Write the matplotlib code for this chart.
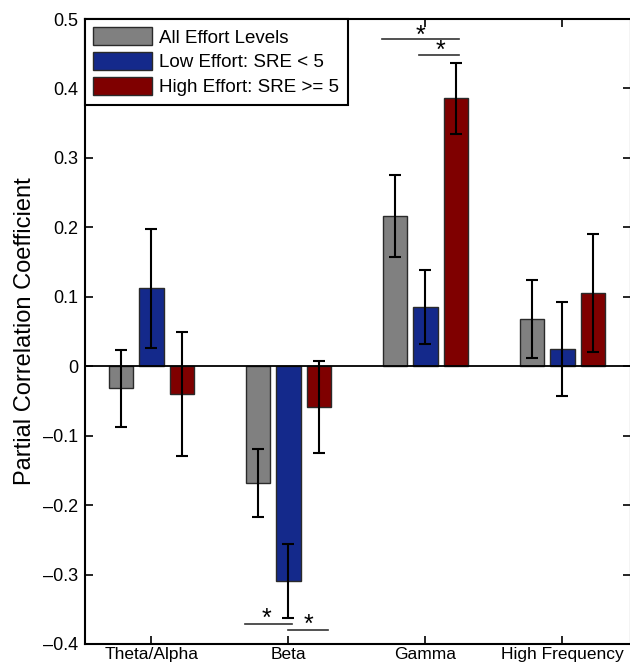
import matplotlib
matplotlib.use("Agg")
import matplotlib.pyplot as plt
import numpy as np

plt.rcParams['font.family'] = ['Liberation Sans', 'DejaVu Sans']

# ---- data ----
bands = ["Theta/Alpha", "Beta", "Gamma", "High Frequency"]
series_names = ["All Effort Levels", "Low Effort: SRE < 5", "High Effort: SRE >= 5"]
all_effort = [-0.032, -0.168, 0.216, 0.068]
all_err = [0.055, 0.049, 0.059, 0.056]
low_effort = [0.112, -0.309, 0.085, 0.025]
low_err = [0.086, 0.053, 0.053, 0.068]
high_effort = [-0.040, -0.059, 0.386, 0.1055]
high_err = [0.089, 0.066, 0.051, 0.085]
yticks = [-0.4, -0.3, -0.2, -0.1, 0, 0.1, 0.2, 0.3, 0.4, 0.5]

# significance brackets: (x0, x1, y, star_x, star_y)
sig_lines = [(2.681, 3.245, 0.4705, 2.96, 0.4846),
             (2.955, 3.245, 0.448, 3.111, 0.4637),
             (1.683, 2.024, -0.3705, 1.836, -0.3544),
             (1.997, 2.286, -0.380, 2.145, -0.3631)]

colors = ['#808080', '#14298B', '#7F0000']
groups = np.arange(1, len(bands) + 1)
offset = 0.2226
width = 0.179

fig = plt.figure(figsize=(6.3, 6.65), dpi=100)
ax = fig.add_axes([85 / 630, 21 / 665, 546 / 630, 625 / 665])

for i, (vals, errs) in enumerate(zip([all_effort, low_effort, high_effort],
                                     [all_err, low_err, high_err])):
    x = groups + (i - 1) * offset
    ax.bar(x, vals, width=width, color=colors[i], edgecolor='#2a2a2a',
           linewidth=1.0, label=series_names[i], zorder=2)
    ax.errorbar(x, vals, yerr=errs, fmt='none', ecolor='black', elinewidth=1.5,
                capsize=4.2, capthick=1.5, zorder=3)

ax.axhline(0, color='black', linewidth=1.3, zorder=4)

for x0, x1, y, sx, sy in sig_lines:
    ax.plot([x0, x1], [y, y], color='#333333', linewidth=1.2, zorder=3)
    ax.text(sx, sy - 0.019, '*', ha='center', va='baseline', fontsize=18,
            zorder=5)

ax.set_xlim(0.515, 4.5)
ax.set_ylim(-0.4, 0.5)
ax.set_yticks(yticks)
ax.set_yticklabels(['\u20130.4', '\u20130.3', '\u20130.2', '\u20130.1', '0',
                    '0.1', '0.2', '0.3', '0.4', '0.5'], fontsize=13)
ax.set_xticks(groups)
ax.set_xticklabels(bands, fontsize=12.5)
ax.tick_params(axis='both', direction='in', length=6, width=1.2, pad=5)
ax.tick_params(axis='y', right=True, pad=5)
ax.tick_params(axis='x', top=True, pad=2.5)
for s in ax.spines.values():
    s.set_linewidth(1.5)
ax.set_ylabel("Partial Correlation Coefficient", fontsize=17, labelpad=5)

leg = ax.legend(loc='upper left', bbox_to_anchor=(0, 1),
                borderaxespad=0, fontsize=13.5, fancybox=False,
                edgecolor='black', framealpha=1, handlelength=3.1,
                handleheight=1.1, labelspacing=0.28, handletextpad=0.4,
                borderpad=0.45)
leg.get_frame().set_linewidth(1.5)
leg.set_zorder(10)

fig.savefig("out.png", dpi=100)
